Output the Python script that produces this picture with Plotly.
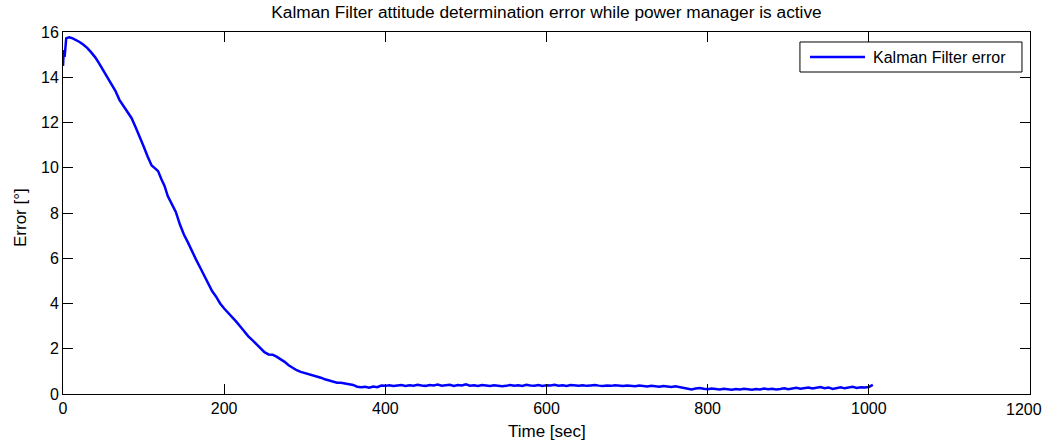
import plotly.graph_objects as go

# ---- data ----
time_head = [0, 1, 2, 3, 4, 6, 8, 12, 16, 20, 25, 30, 35, 40, 45, 50, 55, 60, 65, 70,
             75, 80, 85, 90, 95, 100, 105, 110, 115, 118, 122, 126, 130, 135, 140, 145,
             150, 155, 160, 165, 170, 175, 180, 185, 190, 195, 200, 205, 210, 215, 220,
             225, 230, 235, 240, 245, 250, 255, 260, 265, 270, 275, 280, 285, 290, 295,
             300, 305, 310, 315, 320, 325, 330, 335, 340, 345, 350, 355, 360, 365, 370,
             375, 380, 385, 390, 395]
error_head = [14.5, 15.2, 14.9, 15.6, 15.72, 15.75, 15.77, 15.72, 15.65, 15.57, 15.45,
              15.3, 15.1, 14.88, 14.6, 14.3, 14.05, 13.75, 13.4, 13.0, 12.75, 12.5, 12.2,
              11.8, 11.4, 10.95, 10.5, 10.1, 9.95, 9.85, 9.5, 9.2, 8.75, 8.4, 8.05, 7.5,
              7.05, 6.7, 6.3, 5.95, 5.6, 5.25, 4.9, 4.55, 4.3, 4.0, 3.78, 3.6, 3.4, 3.2,
              2.98, 2.75, 2.55, 2.38, 2.2, 2.0, 1.85, 1.75, 1.74, 1.65, 1.55, 1.42, 1.27,
              1.15, 1.05, 0.98, 0.93, 0.88, 0.84, 0.78, 0.72, 0.65, 0.6, 0.55, 0.5, 0.5,
              0.46, 0.44, 0.4, 0.32, 0.3, 0.32, 0.28, 0.33, 0.3, 0.37]
time_tail = list(range(400, 1006, 5))
error_tail = [0.36, 0.39, 0.35, 0.38, 0.40, 0.36, 0.39, 0.37, 0.41, 0.38, 0.36, 0.40, 0.38,
              0.42, 0.37, 0.39, 0.41, 0.36, 0.40, 0.38, 0.43, 0.37, 0.39, 0.36, 0.40, 0.38,
              0.35, 0.39, 0.37, 0.34, 0.36,
              0.40, 0.37, 0.39, 0.36, 0.41, 0.38, 0.37, 0.40, 0.36, 0.39, 0.38, 0.41, 0.37,
              0.39, 0.36, 0.40, 0.38, 0.37, 0.39, 0.36, 0.38, 0.40, 0.37, 0.35, 0.38, 0.36,
              0.39, 0.37, 0.35, 0.38,
              0.36, 0.34, 0.37, 0.35, 0.33, 0.36, 0.34, 0.32, 0.35, 0.33, 0.31, 0.34, 0.30,
              0.28, 0.22, 0.20,
              0.24, 0.26, 0.23, 0.21, 0.24, 0.22, 0.20, 0.23, 0.21, 0.19, 0.22, 0.20, 0.23,
              0.21, 0.19, 0.22, 0.20, 0.24, 0.21, 0.23, 0.20, 0.22, 0.25, 0.21,
              0.24, 0.27, 0.23, 0.26, 0.29, 0.24, 0.28, 0.31, 0.26, 0.29, 0.22, 0.27, 0.30,
              0.25, 0.28, 0.32, 0.27, 0.30, 0.29, 0.31, 0.40]

time_s = time_head + time_tail
error_deg = error_head + error_tail

x_ticks = [0, 200, 400, 600, 800, 1000, 1200]
y_ticks = [0, 2, 4, 6, 8, 10, 12, 14, 16]

title_text = "Kalman Filter attitude determination error while power manager is active"
x_title = "Time [sec]"
y_title = "Error [°]"
series_name = "Kalman Filter error"

FONT = "Liberation Sans, Arial, sans-serif"
LINE_COLOR = "#0000FF"

fig = go.Figure()
fig.add_trace(go.Scatter(
    x=time_s, y=error_deg, mode="lines", name=series_name,
    line=dict(color=LINE_COLOR, width=2.5), showlegend=False,
))

axis_common = dict(
    showline=True, linecolor="#000000", linewidth=1, mirror="ticks",
    ticks="inside", ticklen=10, tickwidth=1, tickcolor="#000000",
    showgrid=False, zeroline=False, automargin=False,
    tickfont=dict(family=FONT, size=16, color="#000000"),
)

# last x tick label is drawn separately so it stays inside the window (as in the reference)
x_ticktext = [str(v) for v in x_ticks[:-1]] + [""]

fig.update_layout(
    width=1046, height=444,
    margin=dict(l=63, r=16, t=32, b=50),
    paper_bgcolor="white", plot_bgcolor="white",
    font=dict(family=FONT, size=16, color="#000000"),
    title=dict(text=title_text, x=0.5, xref="paper", xanchor="center",
               y=0.974, yanchor="middle",
               font=dict(family=FONT, size=17.3, color="#000000")),
    xaxis=dict(range=[0, 1200], tickvals=x_ticks, ticktext=x_ticktext, **axis_common),
    yaxis=dict(range=[0, 16], tickvals=y_ticks, **axis_common),
    showlegend=False,
)

fig.add_annotation(text=str(x_ticks[-1]), xref="x", yref="paper", x=x_ticks[-1], y=0,
                   xanchor="right", yanchor="middle", xshift=14, yshift=-15,
                   showarrow=False, font=dict(family=FONT, size=16, color="#000000"))

# axis titles
fig.add_annotation(text=x_title, xref="paper", yref="paper", x=0.5, y=0,
                   xanchor="center", yanchor="middle", yshift=-37, showarrow=False,
                   font=dict(family=FONT, size=17, color="#000000"))
fig.add_annotation(text=y_title, xref="paper", yref="paper", x=0, y=0.5,
                   xanchor="center", yanchor="middle", xshift=-43, yshift=-5,
                   textangle=-90, showarrow=False,
                   font=dict(family=FONT, size=17, color="#000000"))

# legend box (MATLAB style)
lx0, lx1, ly0, ly1 = 0.7621, 0.9917, 0.8895, 0.9724
fig.add_shape(type="rect", xref="paper", yref="paper", x0=lx0, x1=lx1, y0=ly0, y1=ly1,
              line=dict(color="#000000", width=1), fillcolor="white", layer="above")
fig.add_shape(type="line", xref="paper", yref="paper", x0=0.7725, x1=0.8294,
              y0=0.9309, y1=0.9309, line=dict(color=LINE_COLOR, width=2.5), layer="above")
fig.add_annotation(text=series_name, xref="paper", yref="paper", x=0.8356, y=0.9309,
                   xanchor="left", yanchor="middle", showarrow=False,
                   font=dict(family=FONT, size=16, color="#000000"))

fig.write_html("out.html", config={"displayModeBar": False},
               post_script="document.body.style.margin='0';document.body.style.overflow='hidden';")
